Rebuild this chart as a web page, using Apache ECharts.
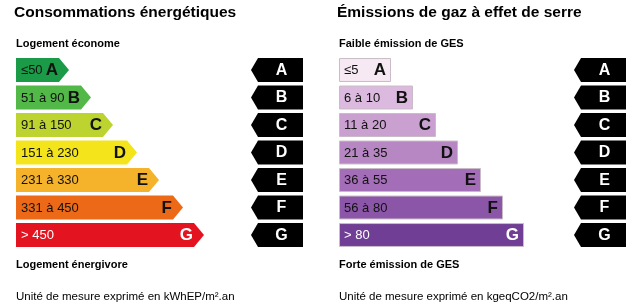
<!DOCTYPE html>
<html>
<head>
<meta charset="utf-8">
<script src="https://cdn.jsdelivr.net/npm/echarts@6/dist/echarts.min.js"></script>
<style>
  html, body { margin: 0; padding: 0; background: #fff; }
  #chart { width: 640px; height: 307px; }
</style>
</head>
<body>
<div id="chart"></div>
<script>
var classes = ['A', 'B', 'C', 'D', 'E', 'F', 'G'];
var energyRanges = ['≤50', '51 à 90', '91 à 150', '151 à 230', '231 à 330', '331 à 450', '> 450'];
var energyLengths = [53, 75, 97, 121, 143, 167, 188];
var gesRanges = ['≤5', '6 à 10', '11 à 20', '21 à 35', '36 à 55', '56 à 80', '> 80'];
var gesLengths = [52, 74, 97, 119, 142, 164, 185];

var energyColors = ['#1b9a48', '#52b848', '#bdd430', '#f4e41b', '#f5b22b', '#ec6a17', '#e3131f'];
var gesColors = ['#f7e9f3', '#dcb9de', '#c9a0d0', '#b787c3', '#a36eb7', '#8c56a8', '#703f95'];

var FONT = '"Liberation Sans", Arial, sans-serif';
var IND_TIP = 235, IND_END = 287; // flèches noires, en unités de l'axe

var chart = echarts.init(document.getElementById('chart'), null, { renderer: 'canvas' });

function barData(lengths) {
  var d = [];
  for (var i = 0; i < lengths.length; i++) d.push([lengths[i], i]);
  return d;
}

// barre en flèche (consommations)
function renderEnergy(params, api) {
  var i = api.value(1);
  var p0 = api.coord([0, i]);
  var p1 = api.coord([api.value(0), i]);
  var h = api.size([0, 1])[1] * 0.87;
  var x0 = p0[0], xt = p1[0], y = p0[1], xr = xt - 10;
  var white = i === 6;
  return {
    type: 'group',
    children: [
      { type: 'polygon',
        shape: { points: [[x0, y - h / 2], [xr, y - h / 2], [xt, y], [xr, y + h / 2], [x0, y + h / 2]] },
        style: { fill: energyColors[i] } },
      { type: 'text', style: { x: x0 + 5, y: y + 0.5, text: energyRanges[i], fill: white ? '#fff' : '#111',
          font: '13px ' + FONT, align: 'left', verticalAlign: 'middle' } },
      { type: 'text', style: { x: xr - 1, y: y + 0.5, text: classes[i], fill: white ? '#fff' : '#111',
          font: 'bold 17px ' + FONT, align: 'right', verticalAlign: 'middle' } }
    ]
  };
}

// barre rectangulaire (GES)
function renderGes(params, api) {
  var i = api.value(1);
  var p0 = api.coord([0, i]);
  var p1 = api.coord([api.value(0), i]);
  var h = api.size([0, 1])[1] * 0.87;
  var x0 = p0[0], xr = p1[0], y = p0[1];
  var white = i === 6;
  return {
    type: 'group',
    children: [
      { type: 'rect',
        shape: { x: x0 + 0.5, y: y - h / 2 + 0.5, width: xr - x0 - 1, height: h - 1 },
        style: { fill: gesColors[i], stroke: '#c9bcc6', lineWidth: 1 } },
      { type: 'text', style: { x: x0 + 5, y: y + 0.5, text: gesRanges[i], fill: white ? '#fff' : '#111',
          font: '13px ' + FONT, align: 'left', verticalAlign: 'middle' } },
      { type: 'text', style: { x: xr - 5, y: y + 0.5, text: classes[i], fill: white ? '#fff' : '#111',
          font: 'bold 17px ' + FONT, align: 'right', verticalAlign: 'middle' } }
    ]
  };
}

// flèches noires à droite de chaque échelle
function renderIndicator(params, api) {
  var i = api.value(0);
  var pt = api.coord([IND_TIP, i]);
  var pe = api.coord([IND_END, i]);
  var h = api.size([0, 1])[1] * 0.87;
  var y = pt[1], xs = pt[0] + 7;
  return {
    type: 'group',
    children: [
      { type: 'polygon',
        shape: { points: [[pt[0], y], [xs, y - h / 2], [pe[0], y - h / 2], [pe[0], y + h / 2], [xs, y + h / 2]] },
        style: { fill: '#000' } },
      { type: 'text', style: { x: (xs + pe[0]) / 2 + 1, y: y + 0.5, text: classes[i], fill: '#fff',
          font: 'bold 16px ' + FONT, align: 'center', verticalAlign: 'middle' } }
    ]
  };
}

function txt(x, y, text, font) {
  return { type: 'text', left: x, top: y, style: { text: text, font: font, fill: '#000' } };
}

var option = {
  animation: false,
  grid: [
    { left: 16, top: 56.25, width: 300, height: 192.5 },
    { left: 339, top: 56.25, width: 300, height: 192.5 }
  ],
  xAxis: [
    { type: 'value', gridIndex: 0, min: 0, max: 300, show: false },
    { type: 'value', gridIndex: 1, min: 0, max: 300, show: false }
  ],
  yAxis: [
    { type: 'category', gridIndex: 0, data: classes, inverse: true, show: false },
    { type: 'category', gridIndex: 1, data: classes, inverse: true, show: false }
  ],
  graphic: [
    txt(14, 5, 'Consommations énergétiques', 'bold 15.5px ' + FONT),
    txt(16, 38, 'Logement économe', 'bold 11px ' + FONT),
    txt(16, 259, 'Logement énergivore', 'bold 11px ' + FONT),
    txt(16, 291, 'Unité de mesure exprimé en kWhEP/m².an', '11.5px ' + FONT),
    txt(337, 5, 'Émissions de gaz à effet de serre', 'bold 15.5px ' + FONT),
    txt(339, 38, 'Faible émission de GES', 'bold 11px ' + FONT),
    txt(339, 259, 'Forte émission de GES', 'bold 11px ' + FONT),
    txt(339, 291, 'Unité de mesure exprimé en kgeqCO2/m².an', '11.5px ' + FONT)
  ],
  series: [
    { type: 'custom', xAxisIndex: 0, yAxisIndex: 0, renderItem: renderEnergy, data: barData(energyLengths) },
    { type: 'custom', xAxisIndex: 0, yAxisIndex: 0, renderItem: renderIndicator, data: classes.map(function (c, i) { return [i]; }) },
    { type: 'custom', xAxisIndex: 1, yAxisIndex: 1, renderItem: renderGes, data: barData(gesLengths) },
    { type: 'custom', xAxisIndex: 1, yAxisIndex: 1, renderItem: renderIndicator, data: classes.map(function (c, i) { return [i]; }) }
  ]
};

chart.setOption(option);
</script>
</body>
</html>
